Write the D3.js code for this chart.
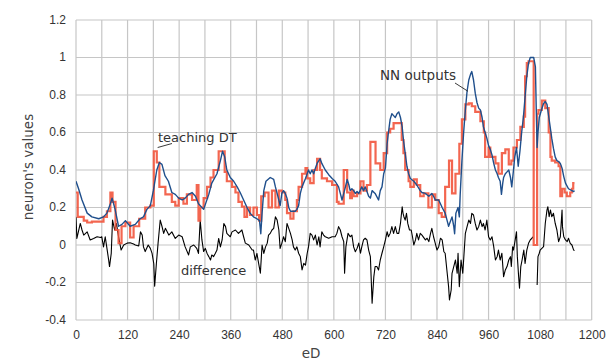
<!DOCTYPE html>
<html>
<head>
<meta charset="utf-8">
<script src="https://cdn.jsdelivr.net/npm/d3@7"></script>
<style>
  html, body { margin: 0; padding: 0; background: #fff; }
  svg { display: block; }
</style>
</head>
<body>
<svg id="chart" width="615" height="360"></svg>
<script>
// x axis: eD; y axis: neuron's values
const xTicks = [0, 120, 240, 360, 480, 600, 720, 840, 960, 1080, 1200];
const xGrid = d3.range(0, 1201, 60);
const yTicks = [-0.4, -0.2, 0, 0.2, 0.4, 0.6, 0.8, 1, 1.2];
const yTickLabels = ["-0.4", "-0.2", "0", "0.2", "0.4", "0.6", "0.8", "1", "1.2"];

// teaching DT (piecewise constant: [eD, value] where each value holds until the next eD)
const teachingDT = [
  [0,0.28],[4,0.15],[18,0.13],[26,0.12],[37,0.125],[64,0.15],[72,0.18],[80,0.28],[85,0.23],[92,0.08],
  [99,0.01],[106,0.10],[115,0.12],[126,0.04],[134,0.10],[147,0.14],[161,0.20],[173,0.21],[181,0.50],[188,0.44],
  [194,0.31],[208,0.27],[223,0.23],[231,0.21],[239,0.25],[250,0.22],[258,0.27],[270,0.24],[281,0.32],[285,0.13],
  [289,0.20],[297,0.25],[305,0.31],[313,0.36],[320,0.40],[332,0.50],[346,0.39],[351,0.34],[363,0.31],[371,0.28],
  [378,0.23],[386,0.205],[392,0.15],[398,0.20],[405,0.16],[413,0.20],[421,0.16],[426,0.13],[431,0.26],[439,0.28],
  [448,0.20],[456,0.29],[464,0.20],[472,0.29],[479,0.28],[487,0.24],[491,0.17],[499,0.14],[506,0.18],[514,0.24],
  [518,0.31],[526,0.38],[534,0.41],[538,0.355],[545,0.33],[553,0.40],[561,0.46],[568,0.40],[572,0.355],[584,0.34],
  [596,0.32],[607,0.23],[611,0.22],[623,0.40],[631,0.28],[638,0.25],[642,0.29],[646,0.26],[654,0.275],[662,0.34],
  [669,0.29],[677,0.32],[685,0.55],[697,0.435],[708,0.40],[716,0.49],[724,0.60],[731,0.62],[739,0.65],[758,0.56],
  [762,0.49],[766,0.40],[774,0.34],[778,0.31],[786,0.35],[793,0.32],[801,0.26],[809,0.275],[820,0.20],[828,0.27],
  [836,0.24],[844,0.17],[851,0.15],[859,0.31],[868,0.45],[875,0.275],[883,0.38],[892,0.54],[898,0.67],[906,0.75],
  [914,0.755],[921,0.74],[929,0.71],[941,0.66],[949,0.60],[952,0.47],[960,0.52],[964,0.47],[976,0.435],[983,0.38],
  [991,0.49],[999,0.51],[1007,0.43],[1013,0.45],[1018,0.52],[1026,0.56],[1034,0.63],[1042,0.685],[1045,0.90],[1049,0.97],
  [1053,0.98],[1065,0],[1073,0.70],[1076,0.72],[1084,0.77],[1092,0.73],[1100,0.60],[1104,0.47],[1107,0.45],[1115,0.44],
  [1123,0.42],[1127,0.26],[1131,0.30],[1137,0.28],[1142,0.26],[1150,0.28],[1154,0.30],[1157,0.33],[1160,0.33]
];

// NN outputs
const nnOutputs = [
  [0,0.34],[6,0.30],[14,0.24],[26,0.17],[37,0.15],[53,0.14],[64,0.15],[72,0.17],[80,0.22],[84,0.25],
  [91,0.19],[99,0.10],[107,0.11],[115,0.13],[126,0.10],[138,0.11],[149,0.14],[157,0.15],[165,0.19],[173,0.21],
  [180,0.29],[188,0.40],[194,0.44],[200,0.43],[207,0.37],[215,0.34],[223,0.28],[231,0.27],[239,0.25],[247,0.24],
  [254,0.25],[262,0.27],[270,0.28],[278,0.26],[285,0.22],[297,0.19],[309,0.27],[316,0.33],[328,0.38],[336,0.45],
  [341,0.50],[346,0.47],[351,0.40],[359,0.36],[367,0.34],[375,0.31],[382,0.28],[390,0.24],[398,0.20],[405,0.17],
  [413,0.15],[421,0.14],[427,0.13],[430,0.06],[433,0.17],[437,0.29],[442,0.34],[452,0.36],[460,0.35],[464,0.31],
  [468,0.275],[472,0.24],[475,0.21],[479,0.275],[483,0.29],[487,0.275],[491,0.25],[495,0.20],[499,0.18],[510,0.18],
  [514,0.19],[518,0.21],[522,0.275],[526,0.31],[534,0.355],[541,0.40],[545,0.38],[549,0.40],[553,0.38],[557,0.41],
  [561,0.435],[565,0.45],[568,0.46],[572,0.435],[580,0.40],[588,0.375],[596,0.355],[603,0.34],[611,0.31],[615,0.275],
  [619,0.24],[623,0.275],[627,0.31],[631,0.35],[635,0.32],[638,0.29],[642,0.30],[646,0.29],[650,0.275],[654,0.285],
  [658,0.275],[665,0.31],[669,0.29],[673,0.31],[677,0.285],[681,0.26],[685,0.25],[689,0.29],[696,0.275],[704,0.24],
  [708,0.29],[712,0.31],[716,0.38],[720,0.41],[724,0.54],[727,0.60],[731,0.67],[735,0.70],[739,0.69],[743,0.68],
  [747,0.70],[751,0.71],[755,0.68],[759,0.63],[762,0.56],[766,0.49],[770,0.42],[774,0.38],[778,0.355],[786,0.34],
  [793,0.32],[801,0.29],[805,0.28],[813,0.275],[821,0.26],[828,0.275],[832,0.26],[836,0.24],[844,0.24],[852,0.20],
  [859,0.17],[863,0.135],[867,0.10],[875,0.15],[879,0.10],[881,0.06],[884,0.17],[889,0.20],[892,0.15],[894,0.27],
  [898,0.45],[902,0.60],[906,0.72],[910,0.82],[914,0.88],[918,0.91],[921,0.925],[925,0.88],[929,0.81],[933,0.76],
  [937,0.73],[941,0.72],[945,0.68],[948,0.63],[952,0.60],[956,0.57],[960,0.53],[964,0.51],[968,0.48],[972,0.435],
  [976,0.40],[980,0.38],[983,0.36],[987,0.34],[990,0.27],[993,0.33],[995,0.36],[999,0.38],[1003,0.39],[1007,0.40],
  [1011,0.36],[1014,0.31],[1018,0.40],[1021,0.47],[1025,0.52],[1029,0.42],[1033,0.50],[1037,0.60],[1041,0.68],[1045,0.79],
  [1049,0.90],[1053,0.97],[1057,1.0],[1065,1.0],[1069,0.95],[1071,0.72],[1073,0.52],[1075,0.60],[1078,0.68],[1083,0.72],
  [1088,0.755],[1092,0.765],[1096,0.75],[1100,0.685],[1104,0.62],[1107,0.57],[1111,0.515],[1115,0.47],[1119,0.45],[1123,0.445],
  [1127,0.435],[1131,0.41],[1135,0.365],[1139,0.33],[1146,0.30],[1154,0.29],[1158,0.285],[1160,0.29]
];

// difference (null marks a break in the line)
const difference = [
  [0,0.15],[2,0.035],[10,0.115],[14,0.08],[18,0.053],[26,0.07],[33,0.027],[41,0.035],[49,0.044],[57,0.04],
  [60,0.044],[64,-0.01],[68,0.044],[72,-0.018],[76,-0.08],[78,-0.115],[82,-0.045],[85,0.133],[90,0.08],[94,0.115],
  [99,0.044],[105,-0.027],[111,0.0],[119,0.01],[126,0.012],[134,0.005],[138,0.0],[146,-0.005],[150,0.07],[154,0.053],
  [157,-0.01],[161,-0.035],[168,0.0],[173,-0.018],[177,-0.045],[181,-0.1],[183,-0.22],[187,-0.1],[191,0.01],[196,0.133],
  [200,0.1],[204,0.062],[208,0.089],[216,0.053],[223,0.07],[231,0.035],[239,0.053],[247,0.044],[254,-0.01],[262,-0.053],
  [266,-0.01],[274,0.0],[281,-0.018],[285,-0.045],[289,0.133],[293,0.027],[297,-0.035],[301,-0.018],[305,-0.045],[309,-0.062],
  [313,-0.08],[316,-0.053],[320,-0.062],[324,-0.045],[328,-0.027],[332,0.035],[336,-0.01],[340,0.027],[344,0.115],[348,0.098],
  [351,0.062],[355,0.053],[359,0.044],[363,0.07],[371,0.08],[378,0.062],[386,0.08],[390,0.044],[394,0.01],[402,0.0],
  [410,-0.027],[413,-0.027],[417,-0.08],[421,-0.045],[425,-0.098],[429,-0.15],[433,0.0],[437,-0.045],[441,-0.01],[445,0.01],
  [448,0.053],[452,0.062],[456,0.08],[460,0.089],[464,0.15],[468,0.133],[472,0.08],[475,-0.018],[479,0.01],[483,0.044],
  [487,0.018],[491,0.115],[495,0.089],[499,0.062],[503,0.027],[506,-0.01],[510,-0.027],[514,-0.01],[518,-0.044],[522,-0.062],
  [526,-0.133],[530,-0.098],[534,-0.107],[538,-0.044],[541,-0.01],[545,0.062],[549,0.053],[553,0.027],[557,0.053],[561,0.0],
  [565,0.044],[568,-0.01],[572,0.071],[576,0.053],[580,0.044],[588,0.036],[596,0.044],[603,0.044],[607,0.062],[611,0.098],
  [615,0.08],[619,0.044],[623,0.018],[625,-0.15],[628,-0.01],[633,0.062],[638,0.044],[642,0.053],[646,-0.01],[650,-0.036],
  [654,-0.018],[658,0.01],[662,-0.044],[665,-0.01],[669,0.027],[673,0.036],[677,0.027],[681,-0.027],[685,-0.062],[689,-0.31],
  [693,-0.17],[696,-0.115],[700,-0.115],[704,-0.133],[708,-0.08],[712,-0.044],[716,-0.01],[720,0.027],[724,0.071],[727,0.044],
  [731,0.062],[735,0.098],[739,0.062],[743,0.098],[747,0.062],[751,0.062],[755,0.115],[759,0.204],[761,0.169],[763,0.151],
  [766,0.133],[769,0.169],[772,0.115],[776,0.08],[780,0.08],[783,0.044],[786,0.0],[790,0.027],[793,0.062],[797,0.027],
  [801,0.062],[805,0.053],[813,0.027],[817,0.036],[821,0.018],[825,0.062],[828,0.089],[832,0.044],[836,0.009],[840,-0.027],
  [844,-0.009],[848,0.036],[852,0.027],[856,-0.036],[859,-0.044],[863,-0.133],[867,-0.222],[869,-0.293],[873,-0.24],[875,-0.151],
  [879,-0.115],[883,-0.08],[887,-0.151],[889,-0.044],[892,-0.222],[894,-0.151],[896,-0.08],[900,-0.151],[902,-0.08],[906,0.062],
  [910,0.098],[914,0.133],[918,0.115],[921,0.169],[925,0.16],[929,0.115],[933,0.08],[937,0.098],[941,0.133],[945,0.098],
  [948,0.115],[952,0.08],[956,0.133],[960,0.044],[964,0.027],[968,0.044],[972,-0.009],[976,-0.08],[980,-0.062],[983,-0.027],
  [987,-0.08],[991,-0.044],[995,-0.169],[999,-0.133],[1003,-0.115],[1007,-0.08],[1011,-0.062],[1013,-0.115],[1016,-0.009],[1018,-0.027],
  [1022,0.027],[1025,0.071],[1027,-0.062],[1030,-0.169],[1032,-0.231],[1035,-0.115],[1038,-0.08],[1042,-0.027],[1045,-0.098],[1049,-0.027],
  [1053,0.009],[1057,0.027],[1061,0.036],[1063,0.044],[1066,null],[1073,-0.213],[1075,-0.062],[1078,-0.044],[1080,-0.027],[1084,-0.018],
  [1088,-0.009],[1092,0.116],[1096,0.187],[1098,0.204],[1101,0.151],[1104,0.187],[1107,0.151],[1111,0.169],[1115,0.116],[1119,0.08],
  [1123,0.018],[1127,0.044],[1131,0.187],[1132,0.098],[1135,0.044],[1139,0.027],[1143,0.018],[1146,0.036],[1150,0.009],[1154,0.0],
  [1158,-0.027],[1160,-0.03]
];

const svg = d3.select("#chart");
const plot = { left: 76, right: 591.7, top: 20, bottom: 320 };

const x = d3.scaleLinear().domain([0, 1200]).range([plot.left, plot.right]);
const y = d3.scaleLinear().domain([-0.4, 1.2]).range([plot.bottom, plot.top]);

const gridColor = "#c6c6c6";
const textColor = "#333";
const fontTicks = "Liberation Sans, Arial, sans-serif";
const fontText = "DejaVu Sans, Verdana, sans-serif";

// grid
svg.append("g")
  .selectAll("line.vg").data(xGrid).join("line")
  .attr("x1", d => x(d)).attr("x2", d => x(d))
  .attr("y1", plot.top).attr("y2", plot.bottom)
  .attr("stroke", gridColor).attr("stroke-width", 1.2);
svg.append("g")
  .selectAll("line.hg").data(yTicks).join("line")
  .attr("x1", plot.left).attr("x2", plot.right)
  .attr("y1", d => y(d)).attr("y2", d => y(d))
  .attr("stroke", gridColor).attr("stroke-width", 1.2);

// axes (labels only, the grid carries the lines)
const xAxis = d3.axisBottom(x).tickValues(xTicks).tickSize(0).tickPadding(10).tickFormat(d3.format("d"));
const gx = svg.append("g").attr("transform", `translate(0,${plot.bottom})`).call(xAxis);
gx.select(".domain").remove();
gx.selectAll("text").attr("font-family", fontTicks).attr("font-size", 12).attr("fill", textColor);

const yAxis = d3.axisLeft(y).tickValues(yTicks).tickSize(0).tickPadding(10)
  .tickFormat((d, i) => yTickLabels[i]);
const gy = svg.append("g").attr("transform", `translate(${plot.left},0)`).call(yAxis);
gy.select(".domain").remove();
gy.selectAll("text").attr("font-family", fontTicks).attr("font-size", 12).attr("fill", textColor).attr("dy", "0.25em");

// axis titles
svg.append("text")
  .attr("transform", "translate(33,167) rotate(-90)")
  .attr("text-anchor", "middle")
  .attr("font-family", fontText).attr("font-size", 13.5).attr("fill", "#444")
  .text("neuron's values");
svg.append("text")
  .attr("x", 311).attr("y", 358)
  .attr("text-anchor", "middle")
  .attr("font-family", fontText).attr("font-size", 13.5).attr("fill", "#444")
  .text("eD");

// series
const clip = svg.append("defs").append("clipPath").attr("id", "plotClip")
  .append("rect").attr("x", plot.left).attr("y", plot.top)
  .attr("width", plot.right - plot.left).attr("height", plot.bottom - plot.top);

const series = svg.append("g").attr("clip-path", "url(#plotClip)");

const lineLinear = d3.line()
  .defined(d => d[1] !== null)
  .x(d => x(d[0])).y(d => y(d[1]));
const lineStep = d3.line()
  .curve(d3.curveStepAfter)
  .x(d => x(d[0])).y(d => y(d[1]));

series.append("path").datum(difference)
  .attr("d", lineLinear)
  .attr("fill", "none").attr("stroke", "#000").attr("stroke-width", 1.1)
  .attr("stroke-linejoin", "round");

series.append("path").datum(teachingDT)
  .attr("d", lineStep)
  .attr("fill", "none").attr("stroke", "#f2553d").attr("stroke-width", 2.2)
  .attr("stroke-opacity", 0.9);

series.append("path").datum(nnOutputs)
  .attr("d", lineLinear)
  .attr("fill", "none").attr("stroke", "#1f4f8c").attr("stroke-width", 1.4)
  .attr("stroke-linejoin", "round");

// annotations
const notes = svg.append("g").attr("font-family", fontText).attr("font-size", 13).attr("fill", textColor);
notes.append("text").attr("x", 158).attr("y", 142).text("teaching DT");
notes.append("text").attr("x", 380).attr("y", 79.5).attr("font-size", 13.5).text("NN outputs");
notes.append("text").attr("x", 181).attr("y", 275).text("difference");

const leader = svg.append("g").attr("stroke", "#222").attr("stroke-width", 0.9);
leader.append("line")
  .attr("x1", x(190)).attr("y1", y(0.52)).attr("x2", 172).attr("y2", 143.5);
leader.append("line")
  .attr("x1", 455).attr("y1", 83).attr("x2", x(912)).attr("y2", y(0.82));
</script>
</body>
</html>
